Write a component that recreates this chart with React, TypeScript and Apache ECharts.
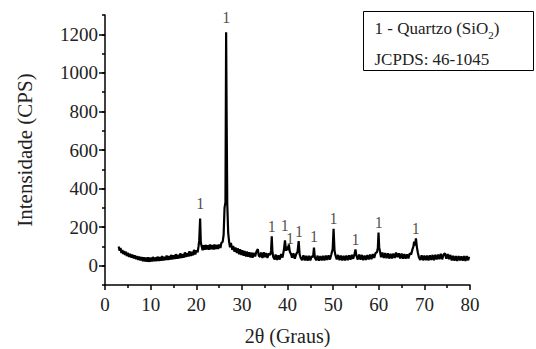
import React, { useEffect, useRef } from "react";
import * as echarts from "echarts";

// XRD pattern: [2θ (degrees), intensity (CPS)]
const pattern: [number, number][] = [
  [3.0, 100], [3.2, 78], [3.4, 92], [3.6, 66], [3.8, 82], [4.0, 60], [4.2, 76], [4.4, 56], [4.6, 72],
  [4.8, 50], [5.0, 66], [5.3, 46], [5.5, 62], [5.8, 42], [6.0, 58], [6.3, 38], [6.5, 54], [6.8, 34],
  [7.0, 50], [7.3, 30], [7.5, 47], [7.8, 27], [8.0, 45], [8.3, 24], [8.5, 44], [8.8, 22], [9.0, 42],
  [9.3, 21], [9.5, 44], [9.8, 20], [10.0, 42], [10.3, 22], [10.5, 46], [10.8, 23], [11.0, 43],
  [11.3, 24], [11.5, 47], [11.8, 25], [12.0, 45], [12.3, 26], [12.5, 50], [12.8, 27], [13.0, 47],
  [13.3, 29], [13.5, 53], [13.8, 30], [14.0, 50], [14.3, 32], [14.5, 56], [14.8, 33], [15.0, 54],
  [15.3, 35], [15.5, 60], [15.8, 36], [16.0, 57], [16.3, 38], [16.5, 64], [16.8, 40], [17.0, 61],
  [17.3, 42], [17.5, 69], [17.8, 45], [18.0, 66], [18.3, 48], [18.5, 75], [18.8, 50], [19.0, 72],
  [19.3, 54], [19.5, 82], [19.8, 58], [20.0, 80], [20.3, 70], [20.5, 100], [20.65, 130], [20.85, 245],
  [21.0, 120], [21.2, 100], [21.4, 80], [21.6, 106], [21.8, 82], [22.0, 108], [22.3, 84], [22.5, 106],
  [22.8, 83], [23.0, 110], [23.3, 85], [23.5, 107], [23.8, 84], [24.0, 110], [24.3, 86], [24.5, 108],
  [24.8, 87], [25.0, 110], [25.3, 92], [25.5, 118], [25.8, 125], [26.0, 160], [26.2, 300], [26.4, 330],
  [26.55, 1210], [26.65, 810], [26.8, 320], [27.0, 170], [27.2, 125], [27.4, 95], [27.6, 118],
  [27.9, 82], [28.1, 102], [28.4, 72], [28.6, 94], [28.9, 66], [29.1, 90], [29.4, 60], [29.6, 85],
  [29.9, 56], [30.1, 80], [30.4, 52], [30.6, 76], [30.9, 48], [31.1, 73], [31.4, 46], [31.6, 70],
  [31.9, 43], [32.1, 68], [32.4, 42], [32.6, 66], [32.9, 48], [33.2, 74], [33.5, 86], [33.7, 52],
  [34.0, 46], [34.2, 68], [34.5, 40], [34.8, 70], [35.0, 44], [35.3, 66], [35.6, 40], [35.9, 64],
  [36.2, 56], [36.4, 78], [36.55, 152], [36.7, 70], [36.9, 44], [37.2, 32], [37.4, 58], [37.7, 30],
  [38.0, 54], [38.3, 32], [38.6, 60], [38.9, 42], [39.2, 80], [39.45, 132], [39.65, 78], [39.85, 98],
  [40.0, 80], [40.3, 110], [40.5, 74], [40.8, 58], [41.0, 42], [41.3, 64], [41.6, 36], [41.9, 60],
  [42.2, 72], [42.45, 128], [42.65, 60], [42.9, 40], [43.2, 28], [43.5, 54], [43.8, 27], [44.1, 52],
  [44.4, 26], [44.7, 51], [45.0, 28], [45.3, 50], [45.6, 44], [45.8, 94], [46.0, 42], [46.3, 28],
  [46.6, 52], [46.9, 26], [47.2, 50], [47.5, 27], [47.8, 51], [48.1, 28], [48.4, 52], [48.7, 30],
  [49.0, 54], [49.3, 32], [49.6, 58], [49.9, 85], [50.1, 192], [50.3, 80], [50.5, 55], [50.8, 32],
  [51.1, 56], [51.4, 28], [51.7, 53], [52.0, 27], [52.3, 51], [52.6, 28], [52.9, 52], [53.2, 29],
  [53.5, 54], [53.8, 31], [54.1, 56], [54.4, 36], [54.7, 62], [54.9, 84], [55.1, 52], [55.4, 32],
  [55.7, 58], [56.0, 31], [56.3, 56], [56.6, 29], [56.9, 53], [57.2, 30], [57.5, 55], [57.8, 32],
  [58.1, 58], [58.4, 34], [58.7, 60], [59.0, 40], [59.3, 66], [59.6, 70], [59.8, 92], [59.95, 172],
  [60.1, 95], [60.3, 70], [60.5, 44], [60.8, 68], [61.1, 40], [61.4, 66], [61.7, 39], [62.0, 64],
  [62.3, 37], [62.6, 62], [62.9, 38], [63.2, 63], [63.5, 40], [63.8, 68], [64.1, 44], [64.4, 64],
  [64.7, 38], [65.0, 63], [65.3, 36], [65.6, 60], [65.9, 37], [66.2, 59], [66.5, 38], [66.8, 64],
  [67.1, 58], [67.4, 86], [67.6, 100], [67.75, 125], [67.95, 105], [68.15, 142], [68.35, 98],
  [68.55, 70], [68.8, 44], [69.1, 30], [69.4, 54], [69.7, 28], [70.0, 52], [70.3, 29], [70.6, 53],
  [70.9, 27], [71.2, 54], [71.5, 30], [71.8, 56], [72.1, 29], [72.4, 57], [72.7, 32], [73.0, 58],
  [73.3, 34], [73.6, 62], [73.9, 33], [74.2, 58], [74.5, 64], [74.8, 36], [75.1, 60], [75.4, 34],
  [75.7, 56], [76.0, 27], [76.3, 52], [76.6, 26], [76.9, 50], [77.2, 25], [77.5, 50], [77.8, 27],
  [78.1, 49], [78.4, 26], [78.7, 50], [79.0, 25], [79.3, 50], [79.6, 28], [79.8, 46],
];

// Peak markers ("1" = quartzo): [2θ, label height in CPS]
const peakLabels: [number, number][] = [
  [20.85, 325], [26.55, 1285], [36.55, 205], [39.4, 208], [40.55, 140], [42.5, 178],
  [45.8, 152], [50.1, 246], [54.9, 135], [60.0, 225], [68.1, 193],
];

const yLabels = [0, 200, 400, 600, 800, 1000, 1200];

const FONT = "Times New Roman, Liberation Serif, DejaVu Serif, serif";

export default function App() {
  const ref = useRef<HTMLDivElement>(null);
  useEffect(() => {
    if (!ref.current) return;
    const chart = echarts.init(ref.current, null, { renderer: "svg" });
    chart.setOption({
      animation: false,
      backgroundColor: "#ffffff",
      textStyle: { fontFamily: FONT },
      grid: {
        left: 105,
        right: 66,
        top: 15,
        bottom: 64,
        containLabel: false,
        outerBoundsMode: "none",
      },
      xAxis: {
        type: "value",
        min: 0,
        max: 80,
        interval: 10,
        name: "2θ (Graus)",
        nameLocation: "middle",
        nameGap: 41,
        nameTextStyle: { fontFamily: FONT, fontSize: 20, color: "#222" },
        axisLine: { show: true, onZero: false, lineStyle: { color: "#000", width: 1.5 } },
        axisTick: { show: true, inside: false, length: 5, lineStyle: { color: "#000", width: 1.5 } },
        minorTick: { show: true, splitNumber: 2, length: 3, lineStyle: { color: "#000", width: 1.5 } },
        splitLine: { show: false },
        axisLabel: {
          fontFamily: FONT,
          fontSize: 19,
          color: "#222",
          margin: 10,
          formatter: (v: number) => String(v),
        },
      },
      yAxis: [
        {
          type: "value",
          min: -100,
          max: 1300,
          interval: 100,
          name: "Intensidade (CPS)",
          nameLocation: "middle",
          nameGap: 70,
          nameTextStyle: { fontFamily: FONT, fontSize: 21, color: "#222" },
          axisLine: { show: true, onZero: false, lineStyle: { color: "#000", width: 1.5 } },
          axisTick: { show: true, inside: false, length: 3, lineStyle: { color: "#000", width: 1.5 } },
          splitLine: { show: false },
          axisLabel: {
            fontFamily: FONT,
            fontSize: 19,
            color: "#222",
            margin: 7,
            customValues: yLabels,
            formatter: (v: number) => String(v),
          },
        },
        {
          type: "value",
          min: -100,
          max: 1300,
          interval: 100,
          position: "left",
          axisLine: { show: false },
          axisTick: {
            show: true,
            inside: false,
            length: 6,
            customValues: yLabels,
            lineStyle: { color: "#000", width: 1.5 },
          },
          axisLabel: { show: false },
          splitLine: { show: false },
        },
      ],
      series: [
        {
          type: "line",
          data: pattern,
          showSymbol: false,
          symbol: "none",
          lineStyle: { color: "#000", width: 2.2 },
          z: 3,
        },
        {
          type: "scatter",
          data: peakLabels,
          symbolSize: 1,
          itemStyle: { color: "rgba(0,0,0,0)" },
          label: {
            show: true,
            position: "inside",
            formatter: "1",
            fontFamily: FONT,
            fontSize: 16,
            lineHeight: 13,
            color: "#2a1a1a",
          },
          z: 4,
        },
      ],
      graphic: [
        {
          type: "group",
          left: 363,
          top: 11,
          children: [
            {
              type: "rect",
              shape: { x: 0, y: 0, width: 170, height: 59 },
              style: { fill: "#fff", stroke: "#000", lineWidth: 1 },
            },
            {
              type: "text",
              x: 11,
              y: 17,
              style: {
                text: "1 - Quartzo (SiO{sub|2})",
                fontFamily: FONT,
                fontSize: 17,
                fill: "#222",
                verticalAlign: "middle",
                rich: {
                  sub: { fontSize: 11, fontFamily: FONT, fill: "#222", padding: [12, 0, 0, 0] },
                },
              },
            },
            {
              type: "text",
              x: 11,
              y: 48,
              style: {
                text: "JCPDS: 46-1045",
                fontFamily: FONT,
                fontSize: 17,
                fill: "#222",
                verticalAlign: "middle",
              },
            },
          ],
        },
      ],
    });
    return () => chart.dispose();
  }, []);
  return <div ref={ref} style={{ width: 536, height: 349, position: "fixed", left: 0, top: 0 }} />;
}
